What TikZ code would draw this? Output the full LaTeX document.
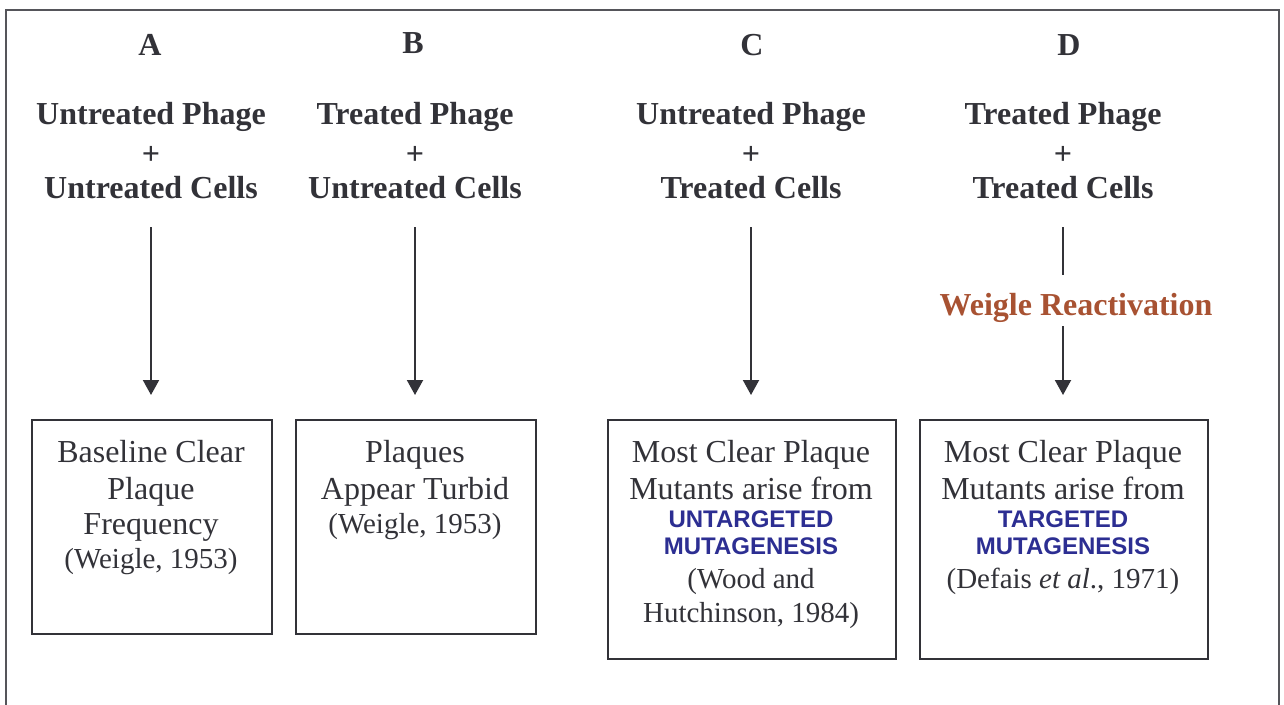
\documentclass[tikz,border=0pt]{standalone}
\usepackage{fontspec}
\setmainfont{Liberation Serif}
\setsansfont{Liberation Sans}
\usetikzlibrary{arrows.meta}
\definecolor{ink}{RGB}{50,50,56}
\definecolor{framec}{RGB}{85,85,90}
\definecolor{mutblue}{RGB}{44,46,146}
\definecolor{weigle}{RGB}{168,82,50}
\newcommand{\mutline}[1]{{\sffamily\bfseries\fontsize{24}{27}\selectfont\color{mutblue}#1}}
\newcommand{\citeline}[1]{{\fontsize{29}{34}\selectfont #1}}
\begin{document}
\begin{tikzpicture}[x=1pt,y=-1pt,
  frame/.style={draw=framec, line width=1.5pt},
  box/.style={draw=ink, line width=2pt, inner sep=0pt, anchor=north west},
  letter/.style={font=\bfseries\fontsize{32}{37}\selectfont, text=ink, inner sep=0pt, anchor=base},
  title/.style={font=\bfseries\fontsize{32}{37}\selectfont, text=ink, align=center, inner sep=0pt, anchor=north},
  body/.style={font=\fontsize{32}{37}\selectfont, text=ink, align=center, inner sep=0pt, anchor=north},
  reactlabel/.style={font=\bfseries\fontsize{32}{37}\selectfont, text=weigle, inner sep=0pt, anchor=base},
  flow/.style={draw=ink, line width=2pt, -{Triangle[width=16pt,length=15pt]}},
  plainflow/.style={draw=ink, line width=2pt}]
\useasboundingbox (0,0) rectangle (1284,704);
\clip (0,0) rectangle (1284,704);
% outer frame
\draw[frame] (6,10) rectangle (1279,730);

% column letters
\node[letter] (lA) at (150,55) {A};
\node[letter] (lB) at (413,53) {B};
\node[letter] (lC) at (752,55) {C};
\node[letter] (lD) at (1069,55) {D};

% titles
\node[title] (tA) at (151,102.5) {Untreated Phage\\[3pt]+\\[-3pt]Untreated Cells};
\node[title] (tB) at (415,102.5) {Treated Phage\\[3pt]+\\[-3pt]Untreated Cells};
\node[title] (tC) at (751,102.5) {Untreated Phage\\[3pt]+\\[-3pt]Treated Cells};
\node[title] (tD) at (1063,102.5) {Treated Phage\\[3pt]+\\[-3pt]Treated Cells};

% result boxes
\node[box, minimum width=240pt, minimum height=214pt] (bA) at (31,419) {};
\node[box, minimum width=240pt, minimum height=214pt] (bB) at (295,419) {};
\node[box, minimum width=288pt, minimum height=239pt] (bC) at (607,419) {};
\node[box, minimum width=288pt, minimum height=239pt] (bD) at (919,419) {};

% box texts
\node[body] (xA) at (151,440) {Baseline Clear\\Plaque\\[-2pt]Frequency\\[-3pt]\citeline{(Weigle, 1953)}};
\node[body] (xB) at (415,440) {Plaques\\Appear Turbid\\[-3pt]\citeline{(Weigle, 1953)}};
\node[body] (xC) at (751,440) {Most Clear Plaque\\Mutants arise from\\[-8.5pt]\mutline{UNTARGETED}\\[-10pt]\mutline{MUTAGENESIS}\\[-3.5pt]\citeline{(Wood and}\\[-3pt]\citeline{Hutchinson, 1984)}};
\node[body] (xD) at (1063,440) {Most Clear Plaque\\Mutants arise from\\[-8.5pt]\mutline{TARGETED}\\[-10pt]\mutline{MUTAGENESIS}\\[-3.5pt]\citeline{(Defais \textit{et al}., 1971)}};

% reactivation label
\node[reactlabel] (wr) at (1076,315) {Weigle Reactivation};

% arrows
\coordinate (sA) at (151,227);
\coordinate (sB) at (415,227);
\coordinate (sC) at (751,227);
\coordinate (sD) at (1063,227);
\draw[flow, shorten >=24pt] (sA) -- (sA |- bA.north);
\draw[flow, shorten >=24pt] (sB) -- (sB |- bB.north);
\draw[flow, shorten >=24pt] (sC) -- (sC |- bC.north);
\draw[plainflow, shorten >=18pt] (sD) -- (sD |- wr.north);
\draw[flow, shorten <=4pt, shorten >=24pt] (sD |- wr.south) -- (sD |- bD.north);
\end{tikzpicture}
\end{document}
